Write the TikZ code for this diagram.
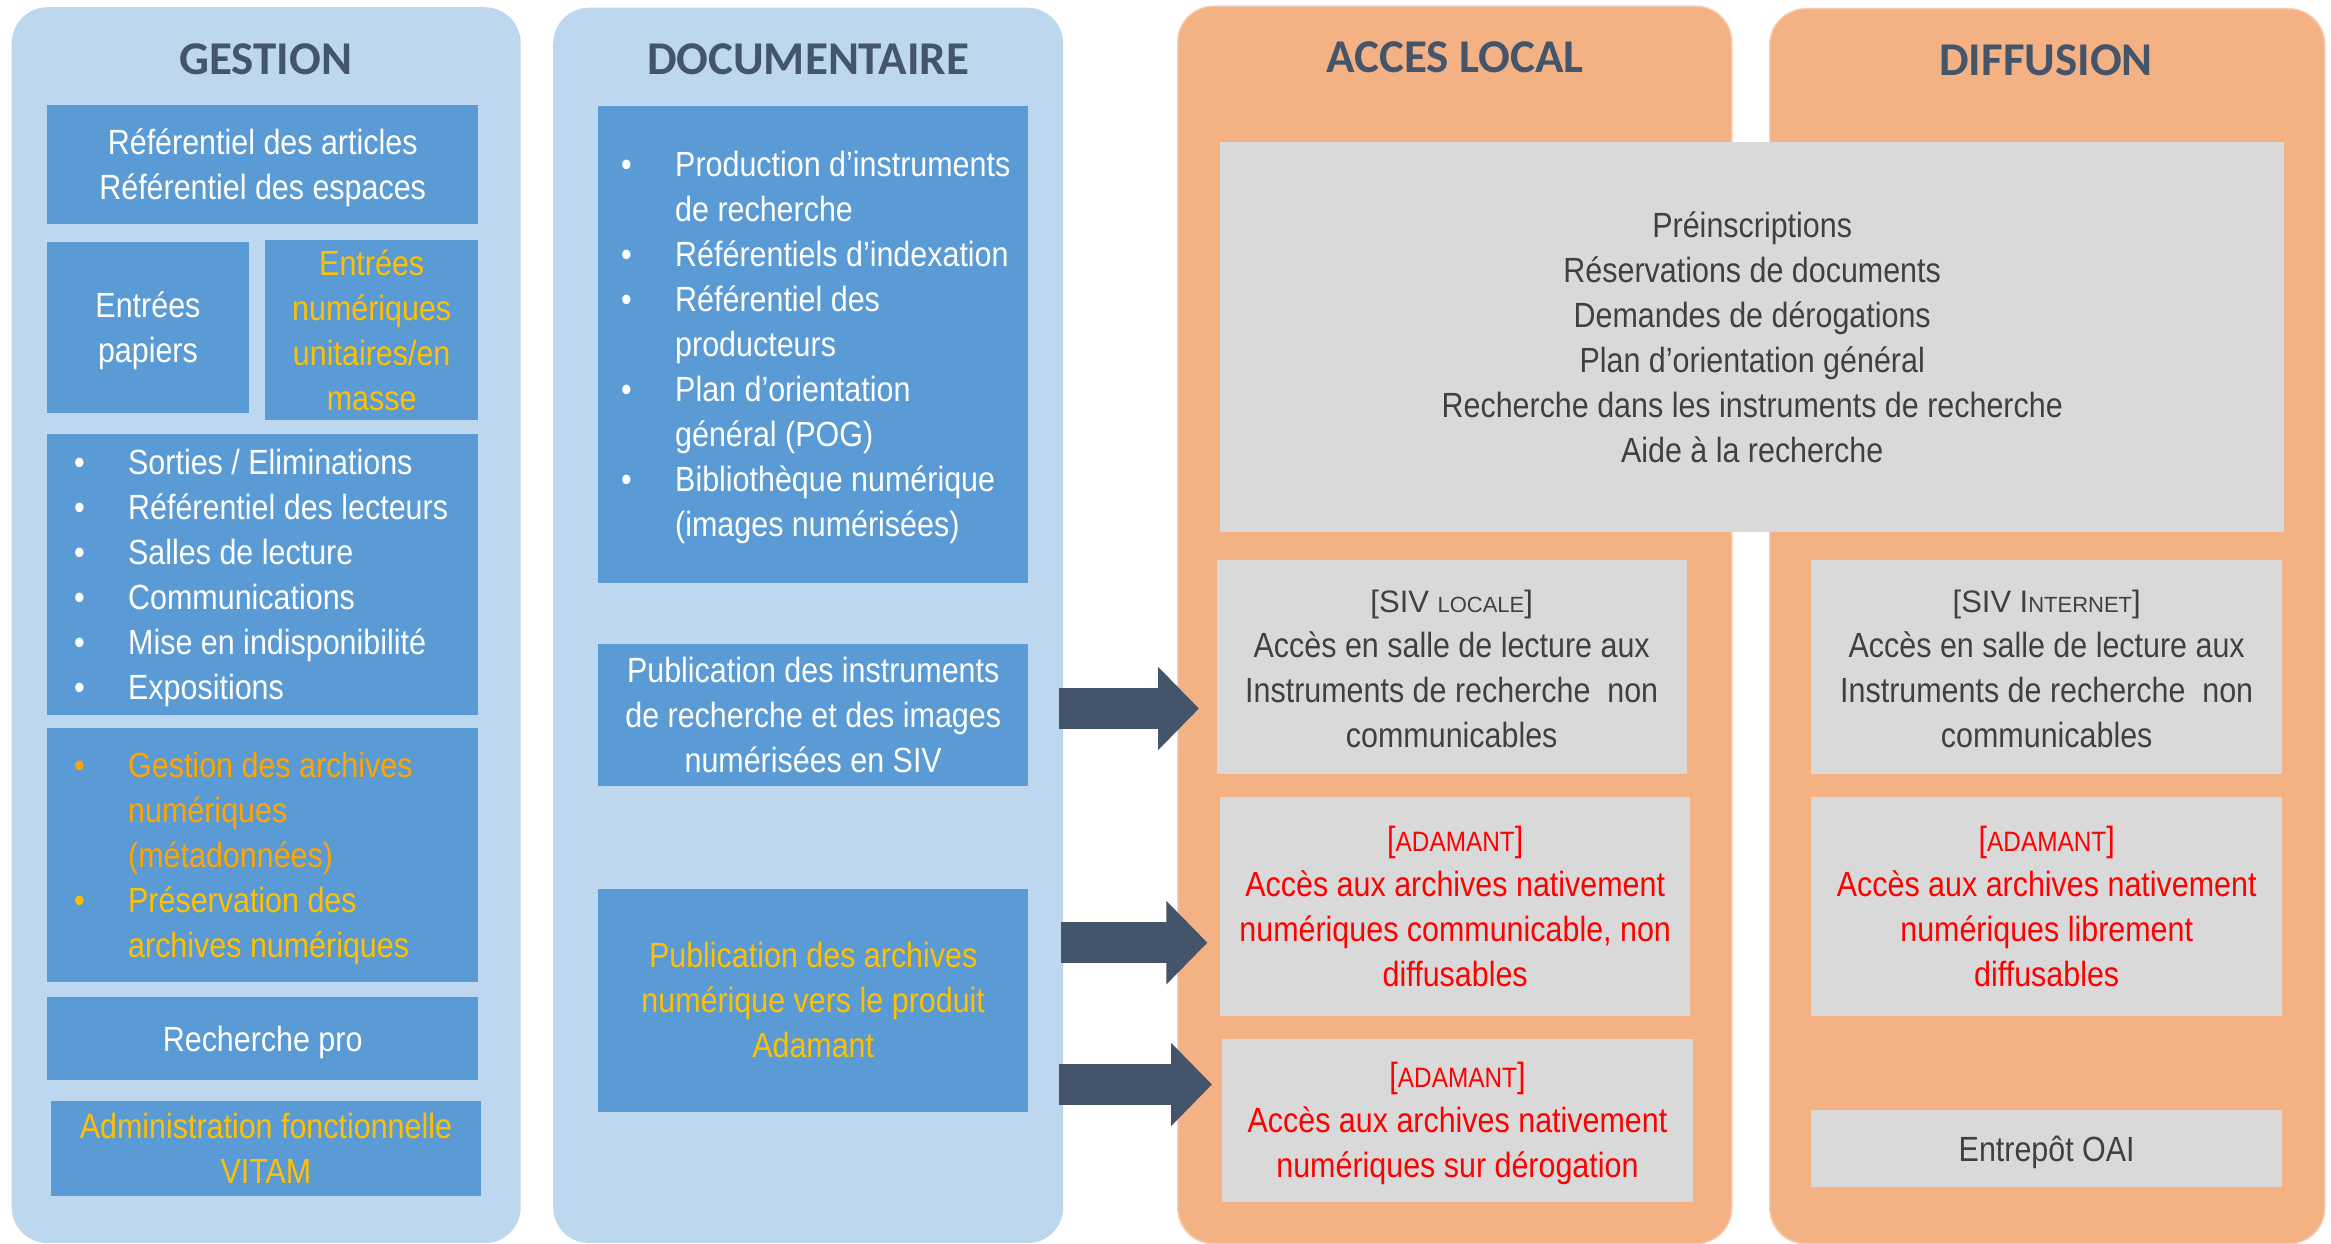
\documentclass[tikz,border=0pt]{standalone}
\usepackage{fontspec}
\setmainfont{Liberation Sans}[FakeStretch=0.87]
\newfontfamily\sivfont{Liberation Sans}
\newfontfamily\headfont{Carlito}
\usetikzlibrary{arrows.meta}
\definecolor{panelblue}{HTML}{BDD7EE}
\definecolor{boxblue}{HTML}{5B9BD5}
\definecolor{panelorange}{HTML}{F4B183}
\definecolor{orangeedge}{HTML}{F8CBAD}
\definecolor{boxgrey}{HTML}{D9D9D9}
\definecolor{slate}{HTML}{44546A}
\definecolor{gold}{HTML}{FFC000}
\definecolor{amber}{HTML}{FFA500}
\definecolor{darktext}{HTML}{404040}
\definecolor{alert}{HTML}{FF0000}
\newcommand\boxfont{\fontsize{35}{45}\selectfont}
\newcommand\itm[1]{\makebox[54pt][l]{\textbullet}\mbox{#1}}
\newcommand\cnt[1]{\hspace*{54pt}\mbox{#1}}
\newcommand\siv[1]{{\sivfont\fontsize{31}{45}\selectfont[SIV #1]}}
\newcommand\smc[1]{{\fontsize{22}{45}\selectfont #1}}
\newcommand\ada{[{\fontsize{28}{45}\selectfont ADAMANT}]}
\begin{document}
\begin{tikzpicture}[x=1pt,y=-1pt]
        \tikzstyle{bluepanel}=[anchor=north west,fill=panelblue,rounded corners=36pt,inner sep=0pt]
        \tikzstyle{orangepanel}=[anchor=north west,fill=panelorange,draw=orangeedge,line width=1.5pt,rounded corners=36pt,inner sep=0pt]
        \tikzstyle{head}=[anchor=base,inner sep=0pt,text=slate,font=\headfont\bfseries\fontsize{47}{47}\selectfont]
        \tikzstyle{struts}=[execute at begin node={\spaceskip=\fontdimen2\font\xspaceskip=\fontdimen2\font\rule{0pt}{35pt}},execute at end node={\rule[-10pt]{0pt}{10pt}}]
        \tikzstyle{bluebox}=[anchor=north west,fill=boxblue,text=white,font=\boxfont,inner sep=0pt,align=center,struts]
        \tikzstyle{listbox}=[bluebox,align=left]
        \tikzstyle{greybox}=[anchor=north west,fill=boxgrey,text=darktext,font=\boxfont,inner sep=0pt,align=center,struts]
        \tikzstyle{bigarrow}=[draw=slate,line width=41pt,-{Triangle[width=81pt,length=41pt]}]
        \useasboundingbox (0,0) rectangle (2331,1244);
        % columns
        \node [bluepanel,minimum width=509pt,minimum height=1236pt] (gestion) at (11.5,7) {};
        \node [bluepanel,minimum width=510pt,minimum height=1235.5pt] (documentaire) at (553,7.5) {};
        \node [orangepanel,minimum width=554pt,minimum height=1237.5pt] (acces) at (1177,5.5) {};
        \node [orangepanel,minimum width=555pt,minimum height=1235pt] (diffusion) at (1769,8) {};
        \node [head] (tgestion) at (265.6,75) {GESTION};
        \node [head] (tdoc) at (808,75) {DOCUMENTAIRE};
        \node [head] (tacces) at (1455,73) {ACCES LOCAL};
        \node [head] (tdiff) at (2046,75.5) {DIFFUSION};
       \begin{scope}
         \node [bluebox,text width=431pt,minimum height=119pt] (g1) at (47,105) {R\'ef\'erentiel des articles\\R\'ef\'erentiel des espaces};
         \node [bluebox,text width=201.5pt,minimum height=170.5pt] (g2) at (47,242) {Entr\'ees\\papiers};
         \node [bluebox,text=gold,text width=213pt,minimum height=177pt] (g3) at (265,240) {Entr\'ees\\num\'eriques\\unitaires/en\\masse};
         \node [listbox,inner xsep=27pt,text width=377pt,minimum height=281.5pt] (g4) at (47,433.5) {\itm{Sorties / Eliminations}\\\itm{R\'ef\'erentiel des lecteurs}\\\itm{Salles de lecture}\\\itm{Communications}\\\itm{Mise en indisponibilit\'e}\\\itm{Expositions}};
         \node [listbox,inner xsep=27pt,text width=377pt,minimum height=254pt] (g5) at (47,728) {\color{amber}\itm{Gestion des archives}\\\color{amber}\cnt{num\'eriques}\\\color{amber}\cnt{(m\'etadonn\'ees)}\\\color{gold}\itm{Pr\'eservation des}\\\color{gold}\cnt{archives num\'eriques}};
         \node [bluebox,text width=431pt,minimum height=83pt] (g6) at (47,997) {Recherche pro};
         \node [bluebox,text=gold,text width=430.5pt,minimum height=95pt] (g7) at (50.5,1101) {Administration fonctionnelle\\VITAM};
        \end{scope}
       \begin{scope}
         \node [listbox,inner xsep=23pt,text width=384pt,minimum height=477pt] (d1) at (598,105.5) {\itm{Production d’instruments}\\\cnt{de recherche}\\\itm{R\'ef\'erentiels d’indexation}\\\itm{R\'ef\'erentiel des}\\\cnt{producteurs}\\\itm{Plan d’orientation}\\\cnt{g\'en\'eral (POG)}\\\itm{Biblioth\`eque num\'erique}\\\cnt{(images num\'eris\'ees)}};
         \node [bluebox,text width=430pt,minimum height=141.5pt] (d2) at (598,644) {Publication des instruments\\de recherche et des images\\num\'eris\'ees en SIV};
         \node [bluebox,text=gold,text width=430pt,minimum height=223pt] (d3) at (598,888.5) {Publication des archives\\num\'erique vers le produit\\Adamant};
        \end{scope}
       \begin{scope}
         \node [greybox,text width=1064pt,minimum height=390pt] (services) at (1220,142) {Pr\'einscriptions\\R\'eservations de documents\\Demandes de d\'erogations\\Plan d’orientation g\'en\'eral\\Recherche dans les instruments de recherche\\Aide \`a la recherche};
         \node [greybox,text width=470pt,minimum height=214pt] (a1) at (1216.5,560) {\siv{\smc{LOCALE}}\\Acc\`es en salle de lecture aux\\Instruments de recherche\ \ non\\communicables};
         \node [greybox,text=alert,text width=470pt,minimum height=219pt] (a2) at (1220,797) {\ada\\Acc\`es aux archives nativement\\num\'eriques communicable, non\\diffusables};
         \node [greybox,text=alert,text width=470.5pt,minimum height=163pt] (a3) at (1222,1038.5) {\ada\\Acc\`es aux archives nativement\\num\'eriques sur d\'erogation};
         \node [greybox,text width=471pt,minimum height=214pt] (f1) at (1811,560) {\siv{I\smc{NTERNET}}\\Acc\`es en salle de lecture aux\\Instruments de recherche\ \ non\\communicables};
         \node [greybox,text=alert,text width=471pt,minimum height=219pt] (f2) at (1811,797) {\ada\\Acc\`es aux archives nativement\\num\'eriques librement\\diffusables};
         \node [greybox,text width=471pt,minimum height=77pt] (f3) at (1811,1110) {Entrep\^ot OAI};
        \end{scope}
        % arrows
        \coordinate (s1) at (1059,708.5);
        \coordinate (s2) at (1061,942.7);
        \coordinate (s3) at (1059,1084.5);
        \draw[bigarrow,shorten >=17.5pt] (s1) -- (s1 -| a1.west);
        \draw[bigarrow,shorten >=12.6pt] (s2) -- (s2 -| a2.west);
        \draw[bigarrow,shorten >=10pt] (s3) -- (s3 -| a3.west);
      \end{tikzpicture}
\end{document}
